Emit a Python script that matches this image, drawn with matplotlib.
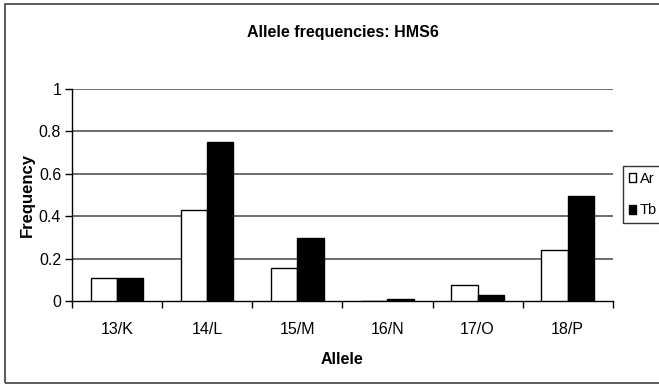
import numpy as np
import matplotlib.pyplot as plt
from matplotlib.patches import Rectangle

alleles = ["13/K", "14/L", "15/M", "16/N", "17/O", "18/P"]
ar = [0.108, 0.427, 0.155, 0.0, 0.074, 0.242]
tb = [0.108, 0.749, 0.295, 0.009, 0.030, 0.495]
series_names = ["Ar", "Tb"]
yticks = [0, 0.2, 0.4, 0.6, 0.8, 1]
ytick_labels = ["0", "0.2", "0.4", "0.6", "0.8", "1"]

font = ["Liberation Sans", "DejaVu Sans"]

fig = plt.figure(figsize=(6.59, 3.92), dpi=100)
W, H = 659.0, 392.0

# outer chart border
fig.patches.append(Rectangle((5 / W, 1 - 383 / H), 700 / W, 379 / H,
                             transform=fig.transFigure, fill=False,
                             edgecolor="#404040", linewidth=1.2))

ax = fig.add_axes([72.3 / W, 1 - 301 / H, 540.3 / W, 212 / H])

x = np.arange(len(alleles))
w = 0.29
ax.bar(x - w / 2, ar, w, color="white", edgecolor="black", linewidth=1, label=series_names[0], zorder=3)
ax.bar(x + w / 2, tb, w, color="black", edgecolor="black", linewidth=1, label=series_names[1], zorder=3)

ax.set_xlim(-0.5, len(alleles) - 0.5)
ax.set_ylim(0, 1)
ax.set_yticks(yticks)
ax.set_yticklabels(ytick_labels, family=font, fontsize=11.5)
ax.set_xticks(np.arange(len(alleles) + 1) - 0.5)
ax.set_xticklabels([])
ax.set_xticks(x, minor=True)
ax.set_xticklabels(alleles, minor=True, family=font, fontsize=11.5)
ax.tick_params(axis="x", which="minor", length=0, pad=15)
ax.tick_params(axis="x", which="major", length=5, direction="out", width=1)
ax.tick_params(axis="y", length=5, direction="out", width=1, pad=3)

for yv in yticks[1:]:
    ax.axhline(yv, color="#555555", linewidth=1.2, zorder=1)

for s in ["top", "right"]:
    ax.spines[s].set_visible(False)
ax.spines["left"].set_linewidth(1)
ax.spines["bottom"].set_linewidth(1)

ax.set_ylabel("Frequency", family=font, fontweight="bold", fontsize=12, labelpad=3)
fig.text(0.5 * (72.3 + 612.6) / W, 1 - 360 / H, "Allele", family=font,
         fontweight="bold", fontsize=11.5, ha="center", va="center")
fig.text(0.5 * (72.3 + 612.6) / W, 1 - 33 / H, "Allele frequencies: HMS6", family=font,
         fontweight="bold", fontsize=11.5, ha="center", va="center")

leg = fig.legend(loc="upper left", bbox_to_anchor=(623 / W, 1 - 166 / H),
                 prop={"family": font, "size": 10.5}, frameon=True, fancybox=False,
                 handlelength=0.5, handleheight=0.6, handletextpad=0.25,
                 borderpad=0.4, labelspacing=1.2, borderaxespad=0)
leg.get_frame().set_edgecolor("black")
leg.get_frame().set_linewidth(1)

fig.savefig("out.png", dpi=100)
